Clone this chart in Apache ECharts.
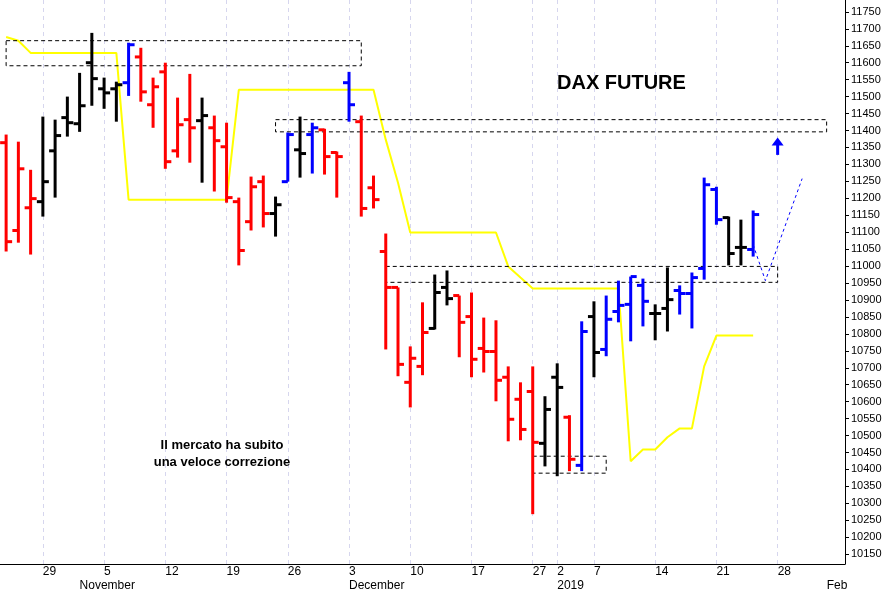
<!DOCTYPE html>
<html>
<head>
<meta charset="utf-8">
<script src="https://cdn.jsdelivr.net/npm/echarts@6/dist/echarts.min.js"></script>
<style>html,body{margin:0;padding:0;background:#fff;}#main{width:896px;height:592px;}</style>
</head>
<body>
<div id="main"></div>
<script>
// giorni di borsa (più alcuni giorni futuri vuoti)
var dates = ['2018-10-24','2018-10-25','2018-10-26','2018-10-29','2018-10-30','2018-10-31',
  '2018-11-01','2018-11-02','2018-11-05','2018-11-06','2018-11-07','2018-11-08','2018-11-09',
  '2018-11-12','2018-11-13','2018-11-14','2018-11-15','2018-11-16','2018-11-19','2018-11-20',
  '2018-11-21','2018-11-22','2018-11-23','2018-11-26','2018-11-27','2018-11-28','2018-11-29',
  '2018-11-30','2018-12-03','2018-12-04','2018-12-05','2018-12-06','2018-12-07','2018-12-10',
  '2018-12-11','2018-12-12','2018-12-13','2018-12-14','2018-12-17','2018-12-18','2018-12-19',
  '2018-12-20','2018-12-21','2018-12-27','2018-12-28','2019-01-02','2019-01-03','2019-01-04',
  '2019-01-07','2019-01-08','2019-01-09','2019-01-10','2019-01-11','2019-01-14','2019-01-15',
  '2019-01-16','2019-01-17','2019-01-18','2019-01-21','2019-01-22','2019-01-23','2019-01-24',
  '2019-01-25','2019-01-28','2019-01-29','2019-01-30','2019-01-31','2019-02-01','2019-02-04'];

var opens  = [11364,11105,11172,11190,11340,11438,11420,11600,11523,11523,11541,11617,11476,11573,11340,11432,11429,11408,11352,11190,11131,11249,11155,11249,11343,11388,11402,11335,11541,11426,11231,11043,10937,10657,10704,10816,10937,10913,10851,10757,10748,10672,10607,10630,10477,10672,10554,10412,10851,10754,10866,10887,10943,10860,10875,10928,10919,10993,11226,11143,11055,11049];
var closes = [11072,11287,11199,11249,11385,11423,11473,11553,11511,11535,11653,11514,11529,11308,11417,11408,11444,11370,11202,11046,11234,11155,11181,11388,11332,11408,11323,11323,11476,11170,11196,10937,10710,10728,10804,10922,10904,10834,10725,10748,10663,10548,10518,10480,10577,10642,10430,10807,10745,10843,10884,10969,10896,10860,10901,10919,10966,11240,11137,11037,11055,11152];
var lows   = [11043,11069,11034,11146,11202,11382,11396,11473,11464,11426,11502,11485,11408,11287,11320,11305,11246,11220,11187,11002,11105,11114,11087,11249,11261,11273,11270,11202,11426,11146,11170,10754,10675,10583,10678,10813,10884,10731,10672,10686,10601,10483,10486,10268,10409,10380,10395,10395,10672,10734,10834,10778,10822,10781,10807,10857,10816,10960,11122,11002,11002,11028];
var highs  = [11388,11367,11284,11441,11432,11500,11570,11688,11556,11544,11659,11644,11556,11600,11497,11567,11497,11444,11423,11202,11264,11267,11205,11394,11441,11423,11405,11338,11573,11444,11267,11096,10937,10763,10893,10975,10987,10913,10922,10848,10840,10704,10657,10704,10616,10713,10560,10837,10896,10913,10957,10969,10963,10887,10996,10943,10981,11261,11234,11146,11137,11164];
// 0 nero, 1 rosso, 2 blu
var barColor = [1,1,1,0,0,0,0,0,0,0,2,1,1,1,1,1,0,1,1,1,1,1,0,2,0,2,1,1,2,1,1,1,1,1,1,0,0,1,1,1,1,1,1,1,0,0,1,2,0,2,2,2,2,0,0,2,2,2,2,0,0,2];
var trendLine = [11676,11665,11629,11629,11629,11629,11629,11629,11629,11629,11196,11196,11196,11196,11196,11196,11196,11196,11196,11520,11520,11520,11520,11520,11520,11520,11520,11520,11520,11520,11520,11373,11246,11099,11099,11099,11099,11099,11099,11099,11099,10999,10966,10934,10934,10934,10934,10934,10934,10934,10934,10424,10459,10459,10495,10521,10521,10704,10795,10795,10795,10795];
// riquadri tratteggiati: [x da, x a, prezzo basso, prezzo alto]
var boxes = [[-0.5,29,11591,11665],[22,67.2,11396,11432],[31,62.8,10952,10999],[43,48.9,10389,10439]];
var projection = [[61.05,11063],[61.8,10957],[64.8,11258]];
var arrowAt = [62.8,11328,11379];
var weekDays = ['2018-10-29','2018-11-05','2018-11-12','2018-11-19','2018-11-26','2018-12-03','2018-12-10','2018-12-17','2018-12-27','2019-01-02','2019-01-07','2019-01-14','2019-01-21','2019-01-28'];
var monthStarts = {'2018-11-01':'November','2018-12-03':'December','2019-01-02':'2019','2019-02-01':'Feb'};
var yTicks = [];
for (var t = 10150; t <= 11750; t += 50) yTicks.push(t);

var colors = ['#000000','#ff0000','#0000ff'];
var ohlc = [];
for (var i = 0; i < opens.length; i++) ohlc.push([i, opens[i], closes[i], lows[i], highs[i], barColor[i]]);

var myChart = echarts.init(document.getElementById('main'));
var option = {
    animation: false,
    grid: {left: 0, right: 51, top: 0, bottom: 27},
    xAxis: [{
        type: 'category', data: dates, boundaryGap: true,
        axisLine: {lineStyle: {color: '#000'}},
        axisTick: {alignWithLabel: true, length: 4, lineStyle: {color: '#000'},
            interval: function (i, v) { return weekDays.indexOf(v) >= 0; }},
        axisLabel: {color: '#000', fontSize: 12, align: 'left', margin: 2,
            interval: function (i, v) { return weekDays.indexOf(v) >= 0; },
            formatter: function (v) { return String(parseInt(v.slice(8), 10)); }},
        splitLine: {show: false}
    }, {
        type: 'category', data: dates, boundaryGap: true, position: 'bottom',
        axisLine: {show: false},
        axisTick: {alignWithLabel: true, length: 27, lineStyle: {color: '#000'},
            interval: function (i, v) { return !!monthStarts[v]; }},
        axisLabel: {color: '#000', fontSize: 12, align: 'left', margin: 16,
            interval: function (i, v) { return !!monthStarts[v]; },
            formatter: function (v) { return monthStarts[v] || ''; }}
    }],
    yAxis: {
        type: 'value', position: 'right', min: 10121, max: 11785,
        axisLine: {show: true, lineStyle: {color: '#000'}},
        axisTick: {show: true, length: 4, customValues: yTicks, lineStyle: {color: '#000'}},
        axisLabel: {color: '#000', fontSize: 11, margin: 6, customValues: yTicks,
            formatter: function (v) { return String(v); }},
        splitLine: {show: false}
    },
    graphic: [
        {type: 'text', x: 557, y: 73, z: 10, style: {text: 'DAX FUTURE', font: 'bold 20px Arial, "Liberation Sans"', fill: '#000'}},
        {type: 'text', x: 222, y: 437, z: 10, style: {text: 'Il mercato ha subito\nuna veloce correzione', font: 'bold 13px Arial, "Liberation Sans"', fill: '#000', textAlign: 'center', align: 'center', lineHeight: 17}}
    ],
    series: [
        {
            type: 'line', data: [], z: 0, zlevel: 0,
            markLine: {
                silent: true, symbol: 'none', label: {show: false}, z: 0,
                lineStyle: {type: [4, 4], color: '#d6d6ee', width: 1},
                data: weekDays.map(function (d) { return {xAxis: d}; })
            }
        },
        {
            type: 'line', data: trendLine, symbol: 'none', z: 1,
            lineStyle: {color: '#ffff00', width: 2}
        },
        {
            type: 'custom', data: boxes, z: 2,
            renderItem: function (params, api) {
                var p1 = api.coord([api.value(0), api.value(3)]);
                var p2 = api.coord([api.value(1), api.value(2)]);
                return {type: 'rect', shape: {x: p1[0], y: p1[1], width: p2[0] - p1[0], height: p2[1] - p1[1]},
                    style: {fill: null, stroke: '#000', lineWidth: 1, lineDash: [4, 3]}};
            }
        },
        {
            type: 'custom', data: ohlc, z: 5,
            renderItem: function (params, api) {
                var x = api.value(0);
                var o = api.coord([x, api.value(1)]);
                var c = api.coord([x, api.value(2)]);
                var l = api.coord([x, api.value(3)]);
                var h = api.coord([x, api.value(4)]);
                var col = colors[api.value(5)];
                var st = {stroke: col, lineWidth: 3};
                return {type: 'group', children: [
                    {type: 'line', shape: {x1: h[0], y1: h[1], x2: l[0], y2: l[1]}, style: st},
                    {type: 'line', shape: {x1: o[0] - 6, y1: o[1], x2: o[0], y2: o[1]}, style: st},
                    {type: 'line', shape: {x1: c[0], y1: c[1], x2: c[0] + 6, y2: c[1]}, style: st}
                ]};
            }
        },
        {
            type: 'custom', data: [0], z: 6,
            renderItem: function (params, api) {
                var pts = projection.map(function (p) { return api.coord(p); });
                var b = api.coord([arrowAt[0], arrowAt[1]]);
                var t = api.coord([arrowAt[0], arrowAt[2]]);
                return {type: 'group', children: [
                    {type: 'polyline', shape: {points: pts}, style: {stroke: '#0000ff', lineWidth: 1, lineDash: [3, 3], fill: null}},
                    {type: 'line', shape: {x1: b[0], y1: b[1], x2: b[0], y2: t[1] + 6}, style: {stroke: '#0000ff', lineWidth: 3}},
                    {type: 'polygon', shape: {points: [[t[0], t[1]], [t[0] - 6, t[1] + 8], [t[0] + 6, t[1] + 8]]}, style: {fill: '#0000ff'}}
                ]};
            }
        }
    ]
};
myChart.setOption(option);
</script>
</body>
</html>
